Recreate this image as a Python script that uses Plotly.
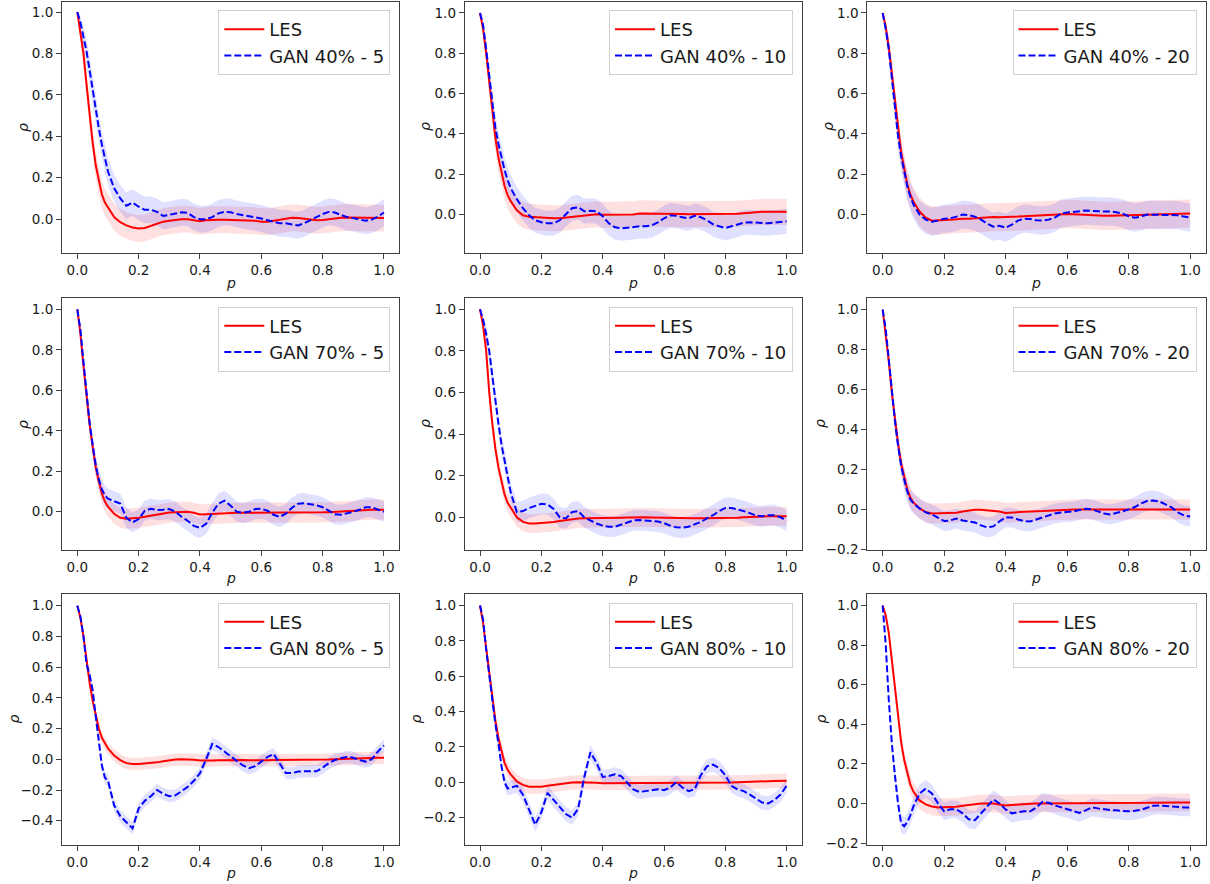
import plotly.graph_objects as go

# ---------------- data ----------------
X = [0.00, 0.01, 0.02, 0.03, 0.04, 0.05, 0.06, 0.07, 0.08, 0.09, 0.10,
     0.12, 0.14, 0.16, 0.18, 0.20, 0.22, 0.24, 0.26, 0.28, 0.30,
     0.32, 0.34, 0.36, 0.38, 0.40, 0.42, 0.44, 0.46, 0.48, 0.50,
     0.52, 0.54, 0.56, 0.58, 0.60, 0.62, 0.64, 0.66, 0.68, 0.70,
     0.72, 0.74, 0.76, 0.78, 0.80, 0.82, 0.84, 0.86, 0.88, 0.90,
     0.92, 0.94, 0.96, 0.98, 1.00]

GAN_LABELS = ["GAN 40% - 5", "GAN 40% - 10", "GAN 40% - 20",
              "GAN 70% - 5", "GAN 70% - 10", "GAN 70% - 20",
              "GAN 80% - 5", "GAN 80% - 10", "GAN 80% - 20"]

LES_1 = [1.0, 0.9, 0.8, 0.65, 0.5, 0.37, 0.26, 0.18, 0.12, 0.08, 0.055,
         0.01, -0.015, -0.03, -0.04, -0.045, -0.043, -0.032, -0.02, -0.012, -0.008,
         -0.004, 0.0, 0.0, -0.005, -0.01, -0.005, -0.003, -0.003, -0.003, -0.004,
         -0.004, -0.003, -0.005, -0.008, -0.012, -0.013, -0.008, -0.003, 0.003, 0.007,
         0.006, 0.002, -0.003, -0.005, -0.004, 0.0, 0.004, 0.007, 0.008, 0.007,
         0.006, 0.005, 0.005, 0.005, 0.005]
GAN_1 = [1.0, 0.95, 0.88, 0.81, 0.72, 0.62, 0.53, 0.44, 0.36, 0.29, 0.23,
         0.15, 0.10, 0.065, 0.08, 0.06, 0.045, 0.045, 0.035, 0.015, 0.02,
         0.025, 0.033, 0.03, 0.01, 0.0, 0.0, 0.01, 0.028, 0.035, 0.033,
         0.025, 0.02, 0.015, 0.01, 0.003, -0.005, -0.012, -0.02, -0.02, -0.025,
         -0.03, -0.02, -0.005, 0.01, 0.025, 0.035, 0.032, 0.02, 0.01, 0.005,
         -0.003, -0.008, -0.002, 0.012, 0.032]

LES_2 = [1.0, 0.92, 0.8, 0.65, 0.5, 0.38, 0.28, 0.2, 0.14, 0.095, 0.065,
         0.02, -0.005, -0.013, -0.015, -0.017, -0.02, -0.02, -0.02, -0.017, -0.013,
         -0.01, -0.005, -0.002, 0.0, -0.003, -0.003, -0.002, -0.002, -0.001, -0.001,
         0.004, 0.004, 0.004, 0.003, 0.003, 0.003, 0.002, 0.001, 0.0, 0.0,
         -0.001, -0.001, -0.001, -0.001, -0.001, 0.0, 0.002, 0.005, 0.008, 0.011,
         0.012, 0.012, 0.012, 0.012, 0.012]
GAN_2 = [1.0, 0.94, 0.82, 0.68, 0.54, 0.43, 0.35, 0.28, 0.22, 0.17, 0.13,
         0.075, 0.03, -0.005, -0.03, -0.04, -0.045, -0.045, -0.03, 0.0, 0.03,
         0.035, 0.015, 0.017, 0.015, -0.01, -0.045, -0.065, -0.07, -0.067, -0.063,
         -0.06, -0.06, -0.055, -0.04, -0.02, -0.005, -0.008, -0.015, -0.02, -0.008,
         -0.015, -0.03, -0.05, -0.06, -0.068, -0.06, -0.05, -0.042, -0.04, -0.04,
         -0.043, -0.045, -0.042, -0.038, -0.035]

LES_3 = [1.0, 0.93, 0.83, 0.7, 0.55, 0.41, 0.31, 0.23, 0.15, 0.1, 0.065,
         0.015, -0.015, -0.03, -0.03, -0.027, -0.025, -0.022, -0.02, -0.02, -0.018,
         -0.015, -0.013, -0.012, -0.013, -0.013, -0.012, -0.01, -0.008, -0.006, -0.006,
         -0.004, -0.002, 0.0, 0.002, 0.003, 0.002, 0.0, -0.003, -0.005, -0.006,
         -0.006, -0.006, -0.005, -0.005, -0.004, -0.003, -0.002, 0.0, 0.0, 0.0,
         0.002, 0.003, 0.004, 0.005, 0.005]
GAN_3 = [1.0, 0.92, 0.82, 0.68, 0.53, 0.39, 0.29, 0.21, 0.14, 0.09, 0.05,
         0.0, -0.025, -0.035, -0.03, -0.02, -0.018, -0.01, 0.0, -0.003, -0.01,
         -0.025, -0.045, -0.06, -0.055, -0.065, -0.05, -0.03, -0.02, -0.022, -0.028,
         -0.03, -0.025, -0.015, 0.005, 0.01, 0.013, 0.017, 0.02, 0.018, 0.015,
         0.015, 0.015, 0.012, 0.005, -0.008, -0.015, -0.01, 0.0, 0.0, 0.0,
         0.0, 0.0, -0.003, -0.01, -0.015]

LES_4 = [1.0, 0.88, 0.72, 0.57, 0.43, 0.32, 0.22, 0.15, 0.09, 0.05, 0.025,
         -0.01, -0.03, -0.035, -0.034, -0.03, -0.025, -0.02, -0.012, -0.007, -0.004,
         -0.002, 0.0, 0.0, -0.005, -0.013, -0.012, -0.01, -0.008, -0.006, -0.005,
         -0.005, -0.005, -0.005, -0.006, -0.006, -0.006, -0.005, -0.005, -0.005, -0.004,
         -0.004, -0.004, -0.004, -0.004, -0.003, -0.002, 0.0, 0.002, 0.004, 0.005,
         0.007, 0.009, 0.01, 0.01, 0.01]
GAN_4 = [1.0, 0.9, 0.74, 0.58, 0.44, 0.33, 0.23, 0.16, 0.11, 0.08, 0.065,
         0.052, 0.04, -0.03, -0.052, -0.036, 0.005, 0.015, 0.008, 0.01, 0.013,
         0.0, -0.025, -0.045, -0.07, -0.08, -0.06, -0.005, 0.04, 0.055, 0.03,
         0.0, -0.005, 0.0, 0.013, 0.015, 0.005, -0.015, -0.025, -0.01, 0.02,
         0.04, 0.042, 0.037, 0.032, 0.022, 0.005, -0.012, -0.015, -0.008, 0.0,
         0.01, 0.022, 0.022, 0.01, 0.0]

LES_5 = [1.0, 0.92, 0.8, 0.6, 0.45, 0.33, 0.24, 0.17, 0.11, 0.07, 0.045,
         0.0, -0.022, -0.03, -0.03, -0.028, -0.025, -0.022, -0.018, -0.013, -0.008,
         -0.006, -0.005, -0.005, -0.005, -0.005, -0.004, -0.003, -0.002, -0.001, 0.0,
         0.0, 0.0, -0.001, -0.002, -0.003, -0.004, -0.005, -0.005, -0.005, -0.005,
         -0.004, -0.004, -0.004, -0.004, -0.004, -0.003, -0.002, 0.0, 0.002, 0.003,
         0.004, 0.005, 0.005, 0.005, 0.005]
GAN_5 = [1.0, 0.95, 0.88, 0.8, 0.68, 0.56, 0.45, 0.35, 0.27, 0.2, 0.12,
         0.025, 0.03, 0.045, 0.055, 0.065, 0.062, 0.04, 0.0, -0.005, 0.025,
         0.03, 0.0, -0.015, -0.03, -0.04, -0.045, -0.045, -0.035, -0.025, -0.015,
         -0.013, -0.015, -0.018, -0.02, -0.028, -0.04, -0.048, -0.05, -0.045, -0.035,
         -0.022, -0.005, 0.01, 0.03, 0.045, 0.045, 0.038, 0.03, 0.02, 0.008,
         0.005, 0.01, 0.01, 0.0, -0.015]

LES_6 = [1.0, 0.88, 0.74, 0.58, 0.44, 0.33, 0.23, 0.16, 0.1, 0.06, 0.035,
         0.005, -0.013, -0.02, -0.02, -0.02, -0.02, -0.017, -0.01, -0.005, -0.002,
         -0.002, -0.004, -0.006, -0.01, -0.018, -0.017, -0.014, -0.012, -0.01, -0.01,
         -0.008, -0.006, -0.004, -0.002, 0.0, 0.0, 0.0, 0.0, -0.001, -0.002,
         -0.002, -0.002, -0.001, 0.0, 0.0, 0.0, 0.0, 0.0, 0.0, 0.001,
         0.001, 0.0, 0.0, 0.0, 0.0]
GAN_6 = [1.0, 0.9, 0.75, 0.59, 0.44, 0.32, 0.22, 0.15, 0.09, 0.05, 0.03,
         0.005, -0.015, -0.025, -0.04, -0.058, -0.055, -0.045, -0.055, -0.06, -0.065,
         -0.08, -0.09, -0.085, -0.06, -0.04, -0.04, -0.05, -0.058, -0.06, -0.05,
         -0.04, -0.03, -0.02, -0.015, -0.012, -0.01, -0.003, 0.003, 0.0, -0.01,
         -0.02, -0.025, -0.018, -0.01, 0.0, 0.012, 0.03, 0.042, 0.045, 0.04,
         0.025, 0.01, -0.015, -0.03, -0.035]

LES_7 = [1.0, 0.92, 0.8, 0.63, 0.5, 0.38, 0.28, 0.2, 0.14, 0.1, 0.07,
         0.025, -0.005, -0.025, -0.03, -0.03, -0.028, -0.025, -0.02, -0.013, -0.006,
         -0.002, 0.0, 0.0, -0.003, -0.008, -0.01, -0.008, -0.006, -0.005, -0.005,
         -0.005, -0.005, -0.006, -0.007, -0.007, -0.006, -0.005, -0.005, -0.005, -0.005,
         -0.005, -0.005, -0.005, -0.005, -0.004, -0.002, 0.0, 0.002, 0.004, 0.006,
         0.008, 0.009, 0.01, 0.01, 0.01]
GAN_7 = [1.0, 0.93, 0.8, 0.62, 0.55, 0.45, 0.28, 0.12, -0.04, -0.12, -0.14,
         -0.3, -0.37, -0.41, -0.45, -0.32, -0.27, -0.24, -0.2, -0.225, -0.24,
         -0.235, -0.21, -0.18, -0.14, -0.09, 0.0, 0.1, 0.08, 0.05, 0.02,
         -0.01, -0.04, -0.058, -0.045, -0.015, 0.015, 0.035, -0.03, -0.09, -0.09,
         -0.08, -0.078, -0.078, -0.078, -0.055, -0.025, -0.005, 0.008, 0.015, 0.01,
         -0.005, -0.015, 0.0, 0.05, 0.09]

LES_8 = [1.0, 0.9, 0.76, 0.62, 0.47, 0.35, 0.25, 0.17, 0.11, 0.07, 0.045,
         0.005, -0.015, -0.025, -0.027, -0.025, -0.02, -0.015, -0.01, -0.005, -0.002,
         0.0, 0.0, 0.0, -0.003, -0.005, -0.005, -0.004, -0.003, -0.002, -0.002,
         -0.002, -0.002, -0.002, -0.002, -0.002, -0.002, -0.003, -0.003, -0.004, -0.004,
         -0.004, -0.004, -0.004, -0.003, -0.002, -0.001, 0.0, 0.002, 0.003, 0.004,
         0.005, 0.006, 0.007, 0.008, 0.008]
GAN_8 = [1.0, 0.92, 0.75, 0.6, 0.45, 0.33, 0.22, 0.09, 0.0, -0.035, -0.03,
         -0.02, -0.07, -0.16, -0.24, -0.17, -0.06, -0.1, -0.14, -0.18, -0.2,
         -0.15, 0.03, 0.17, 0.11, 0.03, 0.035, 0.045, 0.035, 0.0, -0.04,
         -0.055, -0.05, -0.045, -0.04, -0.045, -0.03, 0.0, -0.03, -0.05, -0.04,
         0.04, 0.09, 0.1, 0.08, 0.04, -0.02, -0.04, -0.05, -0.07, -0.095,
         -0.115, -0.12, -0.1, -0.07, -0.02]

LES_9 = [1.0, 0.95, 0.86, 0.72, 0.57, 0.43, 0.31, 0.22, 0.15, 0.095, 0.06,
         0.015, -0.005, -0.015, -0.02, -0.02, -0.02, -0.017, -0.012, -0.007, -0.002,
         0.0, 0.0, 0.0, -0.005, -0.01, -0.008, -0.005, -0.003, -0.002, 0.0,
         0.0, 0.0, 0.0, 0.0, 0.0, 0.0, 0.0, 0.0, 0.0, 0.0,
         0.0, 0.0, 0.0, 0.0, 0.0, 0.0, 0.002, 0.003, 0.004, 0.005,
         0.005, 0.005, 0.005, 0.005, 0.005]
GAN_9 = [1.0, 0.8, 0.52, 0.3, 0.14, 0.0, -0.1, -0.115, -0.095, -0.06, -0.015,
         0.05, 0.075, 0.05, 0.0, -0.04, -0.03, -0.03, -0.05, -0.08, -0.085,
         -0.05, -0.01, 0.02, 0.0, -0.03, -0.05, -0.045, -0.04, -0.04, -0.02,
         0.008, 0.003, -0.01, -0.02, -0.03, -0.04, -0.048, -0.035, -0.02, -0.025,
         -0.03, -0.033, -0.035, -0.037, -0.04, -0.037, -0.032, -0.022, -0.012, -0.01,
         -0.013, -0.015, -0.018, -0.02, -0.02]

LES_SERIES = [LES_1, LES_2, LES_3, LES_4, LES_5, LES_6, LES_7, LES_8, LES_9]
GAN_SERIES = [GAN_1, GAN_2, GAN_3, GAN_4, GAN_5, GAN_6, GAN_7, GAN_8, GAN_9]

# half-width of the shaded spread, and its growth near p=0
LES_SPREAD = [0.065, 0.065, 0.07, 0.05, 0.045, 0.05, 0.04, 0.04, 0.045]
GAN_SPREAD = [0.065, 0.062, 0.07, 0.05, 0.05, 0.05, 0.04, 0.04, 0.045]
START_FRACTION = [0.0, 0.5, 0.8, 0.95]

Y_RANGES = [[-0.161, 1.051], [-0.19, 1.057], [-0.188, 1.057],
            [-0.189, 1.056], [-0.157, 1.054], [-0.203, 1.058],
            [-0.558, 1.076], [-0.355, 1.065], [-0.21, 1.058]]

# ---------------- layout geometry (pixels) ----------------
W, H = 1210, 884
COL_PX = [(62.0, 399.3), (464.7, 802.0), (867.3, 1205.5)]
ROW_PX = [(1.5, 252.5), (298.0, 550.0), (594.0, 845.0)]
YLABEL_X = [23, 425, 828, 23, 425, 820, 13, 415, 820]
XLABEL_Y = [283, 578, 873]

FONT = "DejaVu Sans"
AX_COLOR = "#404040"
TXT_COLOR = "#1a1a1a"


def spread(hw):
    return [hw * f for f in START_FRACTION] + [hw] * (len(X) - len(START_FRACTION))


fig = go.Figure()
layout = dict(
    width=W, height=H, margin=dict(l=0, r=0, t=0, b=0), autosize=False,
    paper_bgcolor="white", plot_bgcolor="white", template="none",
    font=dict(family=FONT, size=13.5, color=TXT_COLOR),
    annotations=[],
)

for i in range(9):
    r, c = divmod(i, 3)
    sfx = "" if i == 0 else str(i + 1)
    xa, ya = "x" + sfx, "y" + sfx
    leg = "legend" + sfx
    les, gan = LES_SERIES[i], GAN_SERIES[i]
    lw, gw = spread(LES_SPREAD[i]), spread(GAN_SPREAD[i])

    # LES band
    fig.add_trace(go.Scatter(x=X, y=[v + w for v, w in zip(les, lw)], xaxis=xa, yaxis=ya,
                             mode="lines", line=dict(width=0, color="rgba(255,0,0,0)"),
                             showlegend=False, hoverinfo="skip"))
    fig.add_trace(go.Scatter(x=X, y=[v - w for v, w in zip(les, lw)], xaxis=xa, yaxis=ya,
                             mode="lines", line=dict(width=0, color="rgba(255,0,0,0)"),
                             fill="tonexty", fillcolor="rgba(255,0,0,0.12)",
                             showlegend=False, hoverinfo="skip"))
    # GAN band
    fig.add_trace(go.Scatter(x=X, y=[v + w for v, w in zip(gan, gw)], xaxis=xa, yaxis=ya,
                             mode="lines", line=dict(width=0, color="rgba(0,0,255,0)"),
                             showlegend=False, hoverinfo="skip"))
    fig.add_trace(go.Scatter(x=X, y=[v - w for v, w in zip(gan, gw)], xaxis=xa, yaxis=ya,
                             mode="lines", line=dict(width=0, color="rgba(0,0,255,0)"),
                             fill="tonexty", fillcolor="rgba(0,0,255,0.12)",
                             showlegend=False, hoverinfo="skip"))
    # lines
    fig.add_trace(go.Scatter(x=X, y=les, xaxis=xa, yaxis=ya, mode="lines", name="LES",
                             line=dict(color="#ff0000", width=2), legend=leg))
    fig.add_trace(go.Scatter(x=X, y=gan, xaxis=xa, yaxis=ya, mode="lines", name=GAN_LABELS[i],
                             line=dict(color="#0000ff", width=2, dash="7px,3px"), legend=leg))

    x0, x1 = COL_PX[c]
    y0, y1 = ROW_PX[r]
    common = dict(showline=True, mirror=True, linecolor=AX_COLOR, linewidth=1,
                  ticks="outside", ticklen=5, tickwidth=1, tickcolor=AX_COLOR,
                  showgrid=False, zeroline=False, tickmode="linear", tick0=0, dtick=0.2,
                  tickformat=".1f", tickfont=dict(family=FONT, size=13.5, color=TXT_COLOR))
    layout["xaxis" + sfx] = dict(domain=[x0 / W, x1 / W], range=[-0.05, 1.05], anchor=ya, **common)
    layout["yaxis" + sfx] = dict(domain=[1 - y1 / H, 1 - y0 / H], range=Y_RANGES[i], anchor=xa, **common)
    layout[leg] = dict(x=(x1 - 9) / W, y=1 - (y0 + 8.5) / H, xanchor="right", yanchor="top",
                       bgcolor="rgba(255,255,255,0.85)", bordercolor="#d0d0d0", borderwidth=1,
                       font=dict(family=FONT, size=18, color=TXT_COLOR), itemwidth=40,
                       tracegroupgap=0, traceorder="normal")
    layout["annotations"].append(dict(text="<i>p</i>", x=(x0 + x1) / 2 / W, y=1 - XLABEL_Y[r] / H,
                                      xref="paper", yref="paper", showarrow=False,
                                      xanchor="center", yanchor="middle",
                                      font=dict(family=FONT, size=14, color=TXT_COLOR)))
    layout["annotations"].append(dict(text="<i>ρ</i>", x=YLABEL_X[i] / W, y=1 - (y0 + y1) / 2 / H,
                                      xref="paper", yref="paper", showarrow=False, textangle=-90,
                                      xanchor="center", yanchor="middle",
                                      font=dict(family=FONT, size=14, color=TXT_COLOR)))

fig.update_layout(**layout)
fig.write_html("out.html")
